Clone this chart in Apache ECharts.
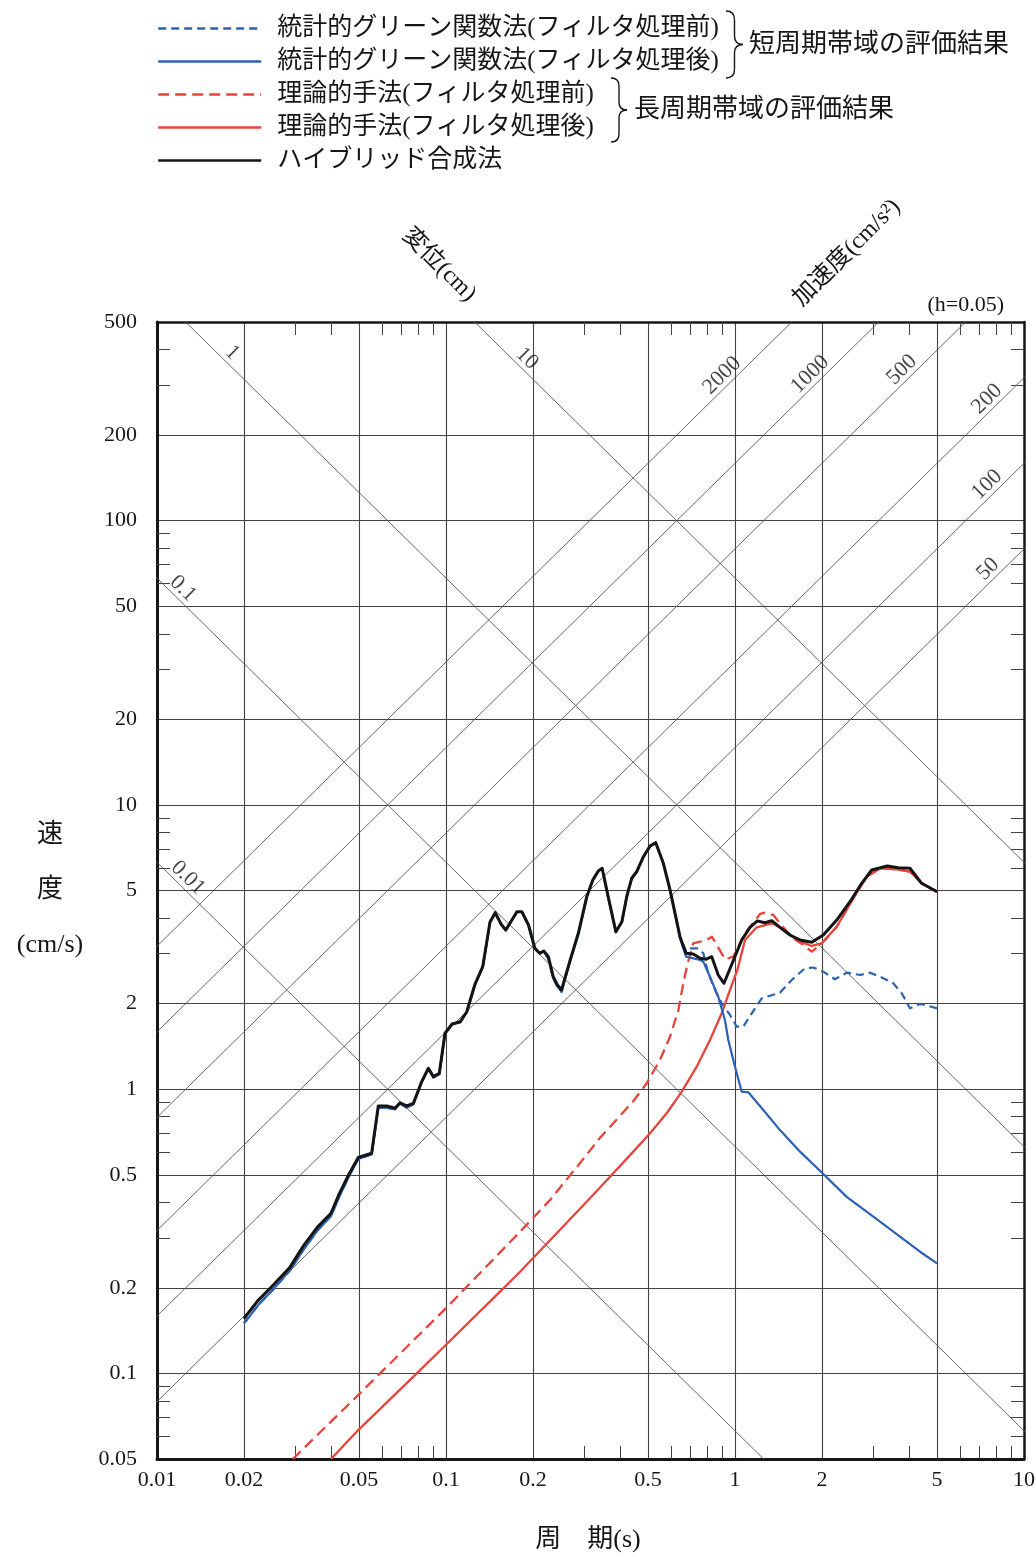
<!DOCTYPE html>
<html lang="ja">
<head>
<meta charset="utf-8">
<title>擬似速度応答スペクトル</title>
<script src="https://cdn.jsdelivr.net/npm/echarts@6.0.0/dist/echarts.min.js"></script>
<style>
  html, body { margin: 0; padding: 0; background: #ffffff; }
  #chart { width: 1036px; height: 1557px; }
</style>
</head>
<body>
<div id="chart"></div>
<script>
// Pseudo-velocity response spectra (h = 0.05) on a tripartite log-log chart.
// Periods in s, velocities in cm/s.

// ハイブリッド合成法
const hybridPeriod = [
  0.020, 0.0224, 0.0253, 0.0289, 0.0321, 0.0359, 0.0400, 0.0427, 0.0462, 0.0497,
  0.0553, 0.0583, 0.0624, 0.0666, 0.0693, 0.0731, 0.0771, 0.0824, 0.0869, 0.0904,
  0.0948, 0.0992, 0.105, 0.112, 0.118, 0.126, 0.134, 0.142, 0.148, 0.155,
  0.161, 0.169, 0.176, 0.183, 0.193, 0.203, 0.211, 0.218, 0.226, 0.235,
  0.243, 0.251, 0.269, 0.287, 0.307, 0.322, 0.337, 0.347, 0.364, 0.387,
  0.406, 0.422, 0.439, 0.457, 0.482, 0.508, 0.532, 0.565, 0.596, 0.629,
  0.645, 0.677, 0.717, 0.757, 0.792, 0.831, 0.875, 0.916, 0.987, 1.055,
  1.127, 1.195, 1.270, 1.340, 1.431, 1.550, 1.679, 1.843, 2.021, 2.249,
  2.500, 2.744, 2.972, 3.365, 3.674, 4.032, 4.426, 5.0
];
const hybridVelocity = [
  0.156, 0.181, 0.205, 0.237, 0.281, 0.327, 0.366, 0.428, 0.503, 0.575,
  0.595, 0.873, 0.873, 0.857, 0.896, 0.873, 0.892, 1.063, 1.185, 1.107,
  1.137, 1.573, 1.696, 1.727, 1.873, 2.344, 2.697, 3.875, 4.178, 3.812,
  3.631, 3.937, 4.211, 4.211, 3.781, 3.131, 3.007, 3.064, 2.925, 2.488,
  2.326, 2.234, 2.848, 3.535, 4.756, 5.444, 5.871, 5.986, 4.756, 3.582,
  3.884, 4.756, 5.520, 5.823, 6.575, 7.172, 7.366, 6.232, 5.021, 3.884,
  3.439, 3.007, 2.989, 2.887, 2.864, 2.925, 2.522, 2.358, 2.836, 3.349,
  3.711, 3.906, 3.852, 3.915, 3.711, 3.487, 3.349, 3.287, 3.487, 3.937,
  4.566, 5.300, 5.903, 6.098, 6.015, 5.986, 5.300, 4.952
];

// 統計的グリーン関数法: short-period part, identical before and after filtering
const sgfCommonPeriod = [
  0.020, 0.0224, 0.0253, 0.0289, 0.0321, 0.0359, 0.0400, 0.0427, 0.0462, 0.0497,
  0.0553, 0.0583, 0.0624, 0.0666, 0.0693, 0.0731, 0.0771, 0.0824, 0.0869, 0.0904,
  0.0948, 0.0992, 0.105, 0.112, 0.118, 0.126, 0.134, 0.142, 0.148, 0.155,
  0.161, 0.169, 0.176, 0.183, 0.193, 0.203, 0.211, 0.218, 0.226, 0.235,
  0.243, 0.251, 0.269, 0.287, 0.307, 0.322, 0.337, 0.347, 0.364, 0.387,
  0.406, 0.422, 0.439, 0.457, 0.482, 0.508, 0.532, 0.565, 0.596, 0.629
];
const sgfCommonVelocity = [
  0.150, 0.174, 0.198, 0.231, 0.272, 0.318, 0.358, 0.418, 0.495, 0.568,
  0.590, 0.860, 0.860, 0.850, 0.890, 0.860, 0.885, 1.060, 1.180, 1.100,
  1.130, 1.565, 1.690, 1.720, 1.865, 2.330, 2.690, 3.860, 4.170, 3.800,
  3.620, 3.930, 4.200, 4.200, 3.770, 3.120, 3.000, 3.050, 2.880, 2.450,
  2.300, 2.200, 2.830, 3.520, 4.740, 5.430, 5.860, 5.970, 4.740, 3.570,
  3.870, 4.740, 5.510, 5.810, 6.560, 7.150, 7.350, 6.220, 5.010, 3.870
];
// 統計的グリーン関数法 (フィルタ処理前), long-period part
const sgfBeforeTailPeriod = [
  0.645, 0.677, 0.695, 0.746, 0.777, 0.808, 0.853, 0.900, 0.961, 1.014,
  1.068, 1.143, 1.237, 1.431, 1.571, 1.747, 1.866, 2.021, 2.218, 2.435,
  2.707, 2.932, 3.175, 3.530, 3.775, 4.032, 4.366, 4.605, 5.0
];
const sgfBeforeTailVelocity = [
  3.440, 3.050, 3.131, 3.131, 3.007, 2.557, 2.234, 2.005, 1.824, 1.659,
  1.659, 1.849, 2.087, 2.185, 2.422, 2.663, 2.680, 2.590, 2.436, 2.570,
  2.522, 2.570, 2.488, 2.358, 2.174, 1.925, 1.994, 1.970, 1.925
];
// 統計的グリーン関数法 (フィルタ処理後), long-period part
const sgfAfterTailPeriod = [
  0.645, 0.677, 0.757, 0.777, 0.819, 0.875, 0.923, 0.948, 1.0, 1.055,
  1.112, 1.253, 1.431, 1.679, 2.021, 2.435, 3.010, 3.724, 4.366, 5.0
];
const sgfAfterTailVelocity = [
  3.400, 2.925, 2.848, 2.809, 2.488, 2.115, 1.751, 1.490, 1.200, 0.980,
  0.975, 0.845, 0.718, 0.603, 0.503, 0.418, 0.356, 0.303, 0.268, 0.244
];

// 理論的手法 (フィルタ処理前)
const theoryBeforePeriod = [
  0.0295, 0.0497, 0.0998, 0.1804, 0.229, 0.291, 0.341, 0.400, 0.445, 0.495,
  0.550, 0.596, 0.637, 0.659, 0.681, 0.717, 0.757, 0.798, 0.831, 0.865,
  0.923, 0.987, 1.083, 1.221, 1.270, 1.357, 1.469, 1.591, 1.723, 1.843,
  1.969, 2.077, 2.249, 2.567, 2.855, 3.175, 3.627, 4.032, 4.426, 5.0
];
const theoryBeforeVelocity = [
  0.050, 0.0840, 0.1694, 0.3151, 0.4075, 0.550, 0.674, 0.805, 0.909, 1.049,
  1.267, 1.530, 1.899, 2.294, 2.697, 3.260, 3.303, 3.349, 3.439, 3.217,
  2.864, 2.925, 3.535, 4.134, 4.178, 4.101, 3.711, 3.395, 3.217, 3.046,
  3.217, 3.395, 3.729, 4.695, 5.592, 5.986, 5.937, 5.823, 5.300, 4.952
];
// 理論的手法 (フィルタ処理後)
const theoryAfterPeriod = [
  0.0400, 0.0497, 0.0792, 0.0998, 0.1538, 0.1804, 0.3107, 0.3694, 0.4448, 0.5081,
  0.5803, 0.6541, 0.7371, 0.8193, 0.8995, 0.961, 1.019, 1.083, 1.189, 1.340,
  1.431, 1.550, 1.679, 1.843, 1.995, 2.249, 2.567, 2.855, 3.175, 3.627,
  4.032, 4.426, 5.0
];
const theoryAfterVelocity = [
  0.050, 0.0632, 0.1001, 0.1259, 0.1940, 0.2279, 0.4075, 0.4923, 0.603, 0.6995,
  0.8227, 0.980, 1.200, 1.490, 1.849, 2.234, 2.626, 3.349, 3.711, 3.834,
  3.711, 3.487, 3.303, 3.190, 3.260, 3.729, 4.695, 5.592, 5.986, 5.937,
  5.823, 5.300, 4.952
];

// axis ticks
const periodTicks = [0.01, 0.02, 0.05, 0.1, 0.2, 0.5, 1, 2, 5, 10];
const periodMinorTicks = [0.03, 0.04, 0.06, 0.07, 0.08, 0.09, 0.3, 0.4, 0.6, 0.7, 0.8, 0.9, 3, 4, 6, 7, 8, 9];
const velocityTicks = [0.05, 0.1, 0.2, 0.5, 1, 2, 5, 10, 20, 50, 100, 200, 500];
const velocityMinorTicks = [0.06, 0.07, 0.08, 0.09, 0.3, 0.4, 0.6, 0.7, 0.8, 0.9, 3, 4, 6, 7, 8, 9,
  30, 40, 60, 70, 80, 90, 300, 400];

// tripartite guide lines: displacement (cm) and acceleration (cm/s²)
const displacementLevels = [0.01, 0.1, 1, 10];
const accelerationLevels = [50, 100, 200, 500, 1000, 2000];

const seriesNames = [
  '統計的グリーン関数法(フィルタ処理前)',
  '統計的グリーン関数法(フィルタ処理後)',
  '理論的手法(フィルタ処理前)',
  '理論的手法(フィルタ処理後)',
  'ハイブリッド合成法'
];

// ---------------------------------------------------------------------------
const lg = Math.log10;
const TWO_PI = 2 * Math.PI;
const pairs = (ps, vs) => ps.map((p, i) => [lg(p), lg(vs[i])]);

const X_MIN = lg(0.01), X_MAX = lg(10);
const Y_MIN = lg(0.05), Y_MAX = lg(500);
const GRID = { left: 157, top: 322, right: 12, bottom: 98 };
const CHART_H = 1557;
const PX_PER_DECADE_Y = (CHART_H - GRID.top - GRID.bottom) / (Y_MAX - Y_MIN);

const FONT_NUM = "'Liberation Serif', 'Noto Sans CJK JP', serif";
const FONT_JP = "'Liberation Serif', 'Noto Sans CJK JP', sans-serif";
const INK = '#161616';
const GRID_COLOR = '#424242';
const GUIDE_COLOR = '#565656';
const BLUE = '#2b62b4';
const RED = '#e9443b';
const BLACK = '#141414';

const tickText = v => String(parseFloat(Math.pow(10, v).toPrecision(6)));

// ---- axes: main (labels + grid lines), plus overlay axes carrying the minor ticks
const minorTick = vals => ({
  show: true, inside: true, length: 13, customValues: vals.map(lg),
  lineStyle: { color: GRID_COLOR, width: 1 }
});
const xAxes = [
  {
    type: 'value', position: 'bottom', min: X_MIN, max: X_MAX,
    axisLine: { show: true, onZero: false, lineStyle: { color: INK, width: 3 } },
    axisTick: { show: false, customValues: periodTicks.map(lg) },
    axisLabel: {
      show: true, customValues: periodTicks.map(lg), formatter: tickText,
      fontFamily: FONT_NUM, fontSize: 22, color: INK, margin: 10
    },
    splitLine: { show: true, lineStyle: { color: GRID_COLOR, width: 1.1 } }
  },
  {
    type: 'value', position: 'bottom', min: X_MIN, max: X_MAX,
    axisLine: { show: false, onZero: false }, axisTick: minorTick(periodMinorTicks),
    axisLabel: { show: false }, splitLine: { show: false }
  },
  {
    type: 'value', position: 'top', min: X_MIN, max: X_MAX,
    axisLine: { show: true, onZero: false, lineStyle: { color: INK, width: 2.5 } },
    axisTick: minorTick(periodMinorTicks),
    axisLabel: { show: false }, splitLine: { show: false }
  }
];
const yAxes = [
  {
    type: 'value', position: 'left', min: Y_MIN, max: Y_MAX,
    axisLine: { show: true, onZero: false, lineStyle: { color: INK, width: 3 } },
    axisTick: { show: false, customValues: velocityTicks.map(lg) },
    axisLabel: {
      show: true, customValues: velocityTicks.map(lg), formatter: tickText,
      fontFamily: FONT_NUM, fontSize: 22, color: INK, margin: 20
    },
    splitLine: { show: true, lineStyle: { color: GRID_COLOR, width: 1.1 } }
  },
  {
    type: 'value', position: 'left', min: Y_MIN, max: Y_MAX,
    axisLine: { show: false, onZero: false }, axisTick: minorTick(velocityMinorTicks),
    axisLabel: { show: false }, splitLine: { show: false }
  },
  {
    type: 'value', position: 'right', min: Y_MIN, max: Y_MAX,
    axisLine: { show: true, onZero: false, lineStyle: { color: INK, width: 2.5 } },
    axisTick: minorTick(velocityMinorTicks),
    axisLabel: { show: false }, splitLine: { show: false }
  }
];

// ---- diagonal guide lines: V = 2πD/T and V = A·T/2π (clipped by the grid)
const guideSpan = [0.001, 100];
const guideSeries = [];
displacementLevels.forEach(d => guideSeries.push({
  type: 'line', silent: true, symbol: 'none', z: 1, clip: true, animation: false,
  data: guideSpan.map(t => [lg(t), lg(TWO_PI * d / t)]),
  lineStyle: { color: GUIDE_COLOR, width: 0.9 }, emphasis: { disabled: true }
}));
accelerationLevels.forEach(a => guideSeries.push({
  type: 'line', silent: true, symbol: 'none', z: 1, clip: true, animation: false,
  data: guideSpan.map(t => [lg(t), lg(a * t / TWO_PI)]),
  lineStyle: { color: GUIDE_COLOR, width: 0.9 }, emphasis: { disabled: true }
}));

// guide labels sit just above their line, at the period given here
const LIFT = 15 / PX_PER_DECADE_Y;
const dispLabelAt = { 0.01: 0.0128, 0.1: 0.0123, 1: 0.0182, 10: 0.1907 };
const accLabelAt = { 50: 7.51, 100: 7.45, 200: 7.45, 500: 3.78, 1000: 1.82, 2000: 0.902 };
const guideLabel = (data, rotate) => ({
  type: 'scatter', silent: true, z: 2, animation: false, symbolSize: 1,
  itemStyle: { color: 'rgba(0,0,0,0)' }, emphasis: { disabled: true },
  data,
  label: {
    show: true, position: 'inside', formatter: '{b}', rotate,
    fontFamily: FONT_NUM, fontSize: 22, color: INK
  }
});
guideSeries.push(guideLabel(displacementLevels.map(d => {
  const t = dispLabelAt[d];
  return { name: String(d), value: [lg(t), lg(TWO_PI * d / t) + LIFT] };
}), -44.5));
guideSeries.push(guideLabel(accelerationLevels.map(a => {
  const t = accLabelAt[a];
  return { name: String(a), value: [lg(t), lg(a * t / TWO_PI) + LIFT] };
}), 44.5));

// ---- spectra
function curve(name, data, color, width, type, z) {
  return {
    name, type: 'line', xAxisIndex: 0, yAxisIndex: 0, data,
    symbol: 'none', showSymbol: false, smooth: false, z, animation: false,
    lineStyle: { color, width, type, join: 'round' },
    itemStyle: { color }, emphasis: { disabled: true }, silent: true
  };
}
const sgfBefore = pairs(sgfCommonPeriod.concat(sgfBeforeTailPeriod), sgfCommonVelocity.concat(sgfBeforeTailVelocity));
const sgfAfter = pairs(sgfCommonPeriod.concat(sgfAfterTailPeriod), sgfCommonVelocity.concat(sgfAfterTailVelocity));

const curveSeries = [
  curve(seriesNames[2], pairs(theoryBeforePeriod, theoryBeforeVelocity), RED, 2.3, [11, 6], 3),
  curve(seriesNames[0], sgfBefore, BLUE, 2.2, [8, 5], 3),
  curve(seriesNames[3], pairs(theoryAfterPeriod, theoryAfterVelocity), RED, 2.3, 'solid', 4),
  curve(seriesNames[1], sgfAfter, BLUE, 2.2, 'solid', 4),
  curve(seriesNames[4], pairs(hybridPeriod, hybridVelocity), BLACK, 3, 'solid', 5)
];

// ---- curly braces grouping the legend rows (x: left edge, tip: tip x, y0..y1)
function brace(x, tip, y0, y1) {
  const m = (y0 + y1) / 2, c = (x + tip) / 2, r = tip - c;
  const st = { stroke: INK, fill: 'none', lineWidth: 1.4 };
  const seg = shape => ({ type: 'bezierCurve', silent: true, shape, style: st });
  const ln = shape => ({ type: 'line', silent: true, shape, style: st });
  return [
    seg({ x1: x, y1: y0, cpx1: c, cpy1: y0, x2: c, y2: y0 + r }),
    ln({ x1: c, y1: y0 + r, x2: c, y2: m - r }),
    seg({ x1: c, y1: m - r, cpx1: c, cpy1: m, x2: tip, y2: m }),
    seg({ x1: tip, y1: m, cpx1: c, cpy1: m, x2: c, y2: m + r }),
    ln({ x1: c, y1: m + r, x2: c, y2: y1 - r }),
    seg({ x1: c, y1: y1 - r, cpx1: c, cpy1: y1, x2: x, y2: y1 })
  ];
}

const txt = (x, y, text, size, extra) => Object.assign({
  type: 'text', x, y, silent: true,
  style: Object.assign({
    text, fontFamily: FONT_JP, fontSize: size, fill: INK,
    align: 'center', verticalAlign: 'middle', textAlign: 'center', textVerticalAlign: 'middle'
  }, extra && extra.style)
}, extra && extra.el);

const option = {
  backgroundColor: '#ffffff',
  animation: false,
  textStyle: { fontFamily: FONT_JP },
  grid: Object.assign({ containLabel: false, outerBoundsMode: 'none' }, GRID),
  xAxis: xAxes,
  yAxis: yAxes,
  legend: {
    data: seriesNames, orient: 'vertical', left: 157, top: 16, padding: 0,
    itemWidth: 103, itemHeight: 2, itemGap: 8, selectedMode: false,
    itemStyle: { opacity: 0 },
    lineStyle: { width: 2.4 },
    textStyle: { fontFamily: FONT_JP, fontSize: 25, lineHeight: 25, color: INK, padding: [0, 0, 0, 11] }
  },
  graphic: brace(726, 743, 11, 78).concat(brace(611, 627, 78, 142), [
    txt(749, 45, '短周期帯域の評価結果', 26, { style: { align: 'left', textAlign: 'left' } }),
    txt(634, 110, '長周期帯域の評価結果', 26, { style: { align: 'left', textAlign: 'left' } }),
    txt(439, 265, '変位(cm)', 24, { el: { rotation: -Math.PI / 4 } }),
    txt(847, 253, '加速度(cm/s²)', 24, { el: { rotation: Math.PI / 4 } }),
    txt(1004, 305, '(h=0.05)', 22, { style: { align: 'right', textAlign: 'right' } }),
    txt(50, 890, '速\n度\n(cm/s)', 26, { style: { lineHeight: 55 } }),
    txt(588, 1540, '周　期(s)', 26)
  ]),
  series: guideSeries.concat(curveSeries)
};

const chart = echarts.init(document.getElementById('chart'), null, { renderer: 'canvas' });
chart.setOption(option);
</script>
</body>
</html>
